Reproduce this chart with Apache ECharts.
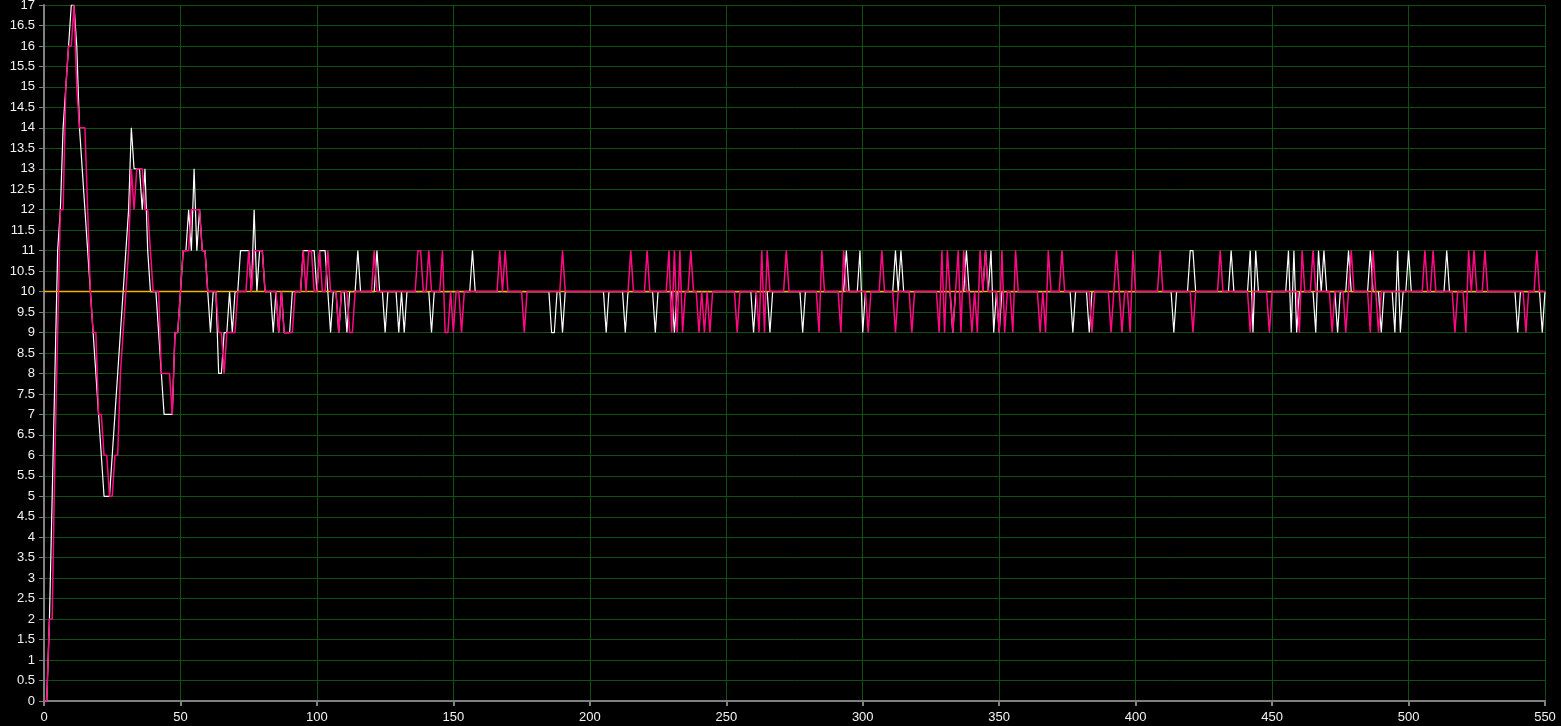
<!DOCTYPE html>
<html>
<head>
<meta charset="utf-8">
<title>response</title>
<script src="https://cdn.jsdelivr.net/npm/echarts@6/dist/echarts.min.js"></script>
<style>
    html, body { margin: 0; padding: 0; background: #000; }
    #chart { width: 1561px; height: 726px; }
</style>
</head>
<body>
<div id="chart"></div>
<script>
// axis ranges
const xMax = 550;
const yMax = 17;
const setpoint = 10;

// first samples (t = 0..105), read point by point
const whiteHead = [
    0, 0, 2, 5, 8, 11, 12, 14, 15, 16, 17, 17, 16, 14, 13, 12, 11, 10, 9, 8,
    7, 6, 5, 5, 5, 6, 7, 8, 9, 10, 11, 12, 14, 13, 13, 13, 12, 13, 11, 10,
    10, 10, 9, 8, 7, 7, 7, 7, 9, 9, 10, 11, 11, 12, 11, 13, 11, 12, 11, 11,
    10, 9, 10, 10, 8, 8, 9, 9, 10, 9, 10, 10, 11, 11, 11, 11, 10, 12, 10, 11,
    11, 10, 10, 10, 9, 10, 9, 10, 9, 9, 9, 10, 10, 10, 10, 11, 11, 11, 11, 11,
    10, 11, 11, 11, 10, 9
];
const pinkHead = [
    0, 0, 2, 2, 6, 9, 12, 12, 15, 16, 16, 17, 15, 14, 14, 14, 12, 10, 9, 9,
    7, 7, 6, 6, 5, 5, 6, 6, 8, 9, 10, 11, 13, 12, 13, 13, 13, 12, 12, 11,
    10, 10, 10, 8, 8, 8, 8, 7, 9, 9, 10, 11, 11, 11, 12, 12, 12, 12, 11, 11,
    10, 10, 10, 10, 9, 9, 8, 9, 9, 9, 9, 10, 10, 10, 10, 11, 10, 11, 11, 11,
    11, 10, 10, 10, 10, 10, 9, 10, 9, 9, 9, 9, 10, 10, 10, 11, 10, 11, 11, 10,
    10, 11, 10, 10, 11, 10
];

// after that both sit on the setpoint; samples that leave it
const whiteUp = [115, 122, 157, 294, 299, 312, 314, 338, 345, 347, 420, 421, 435, 442, 444,
    456, 458, 467, 469, 478, 486, 496, 500, 514];
const whiteDown = [108, 111, 125, 130, 132, 142, 186, 187, 190, 206, 213, 224, 231, 260, 266,
    278, 300, 333, 348, 350, 377, 383, 414, 443, 457, 459, 466, 474, 490, 495, 497, 540, 549];
const pinkUp = [121, 137, 138, 141, 146, 167, 169, 190, 215, 221, 229, 231, 233, 237, 263,
    265, 272, 285, 293, 307, 329, 331, 335, 337, 343, 345, 351, 356, 368, 373, 393, 399,
    409, 431, 461, 465, 479, 487, 506, 509, 522, 524, 528, 547];
const pinkDown = [108, 112, 113, 147, 148, 150, 153, 176, 230, 232, 234, 240, 242, 244, 254,
    262, 264, 284, 292, 302, 312, 318, 328, 330, 333, 336, 340, 342, 350, 352, 355, 365,
    367, 384, 391, 395, 398, 421, 442, 449, 460, 472, 477, 486, 489, 517, 521, 543];

function buildSeries(head, up, down) {
    const out = [];
    for (let t = 0; t <= xMax; t++) {
        let v = t < head.length ? head[t] : setpoint;
        if (up.indexOf(t) >= 0) v = setpoint + 1;
        if (down.indexOf(t) >= 0) v = setpoint - 1;
        out.push([t, v]);
    }
    return out;
}

const whiteData = buildSeries(whiteHead, whiteUp, whiteDown);
const pinkData = buildSeries(pinkHead, pinkUp, pinkDown);
const setpointData = [[0, setpoint], [xMax, setpoint]];

const chart = echarts.init(document.getElementById('chart'));

const gridColor = '#0f520f';
const axisColor = '#808080';
const labelStyle = {
    color: '#f2f2f2',
    fontFamily: 'Liberation Sans, Arial, sans-serif',
    fontSize: 13
};

chart.setOption({
    backgroundColor: '#000000',
    animation: false,
    grid: {
        left: 44,
        right: 16,
        top: 5,
        bottom: 25,
        containLabel: false,
        outerBoundsMode: 'none'
    },
    xAxis: {
        type: 'value',
        min: 0,
        max: xMax,
        interval: 50,
        axisLine: { show: true, onZero: false, lineStyle: { color: axisColor, width: 2 } },
        axisTick: { show: true, length: 5, lineStyle: { color: axisColor, width: 2 } },
        axisLabel: Object.assign({ margin: 10 }, labelStyle),
        splitLine: { show: true, lineStyle: { color: gridColor, width: 1 } }
    },
    yAxis: {
        type: 'value',
        min: 0,
        max: yMax,
        interval: 0.5,
        axisLine: { show: true, onZero: false, lineStyle: { color: axisColor, width: 2 } },
        axisTick: { show: true, length: 5, lineStyle: { color: axisColor, width: 1 } },
        axisLabel: Object.assign({ margin: 9 }, labelStyle),
        splitLine: { show: true, lineStyle: { color: gridColor, width: 1 } }
    },
    series: [
        {
            name: 'white',
            type: 'line',
            showSymbol: false,
            data: whiteData,
            lineStyle: { color: '#ffffff', width: 1.2 }
        },
        {
            name: 'setpoint',
            type: 'line',
            showSymbol: false,
            data: setpointData,
            lineStyle: { color: '#f2b200', width: 1.5 }
        },
        {
            name: 'pink',
            type: 'line',
            showSymbol: false,
            data: pinkData,
            lineStyle: { color: '#ff0a84', width: 1.5 }
        }
    ]
});
</script>
</body>
</html>
